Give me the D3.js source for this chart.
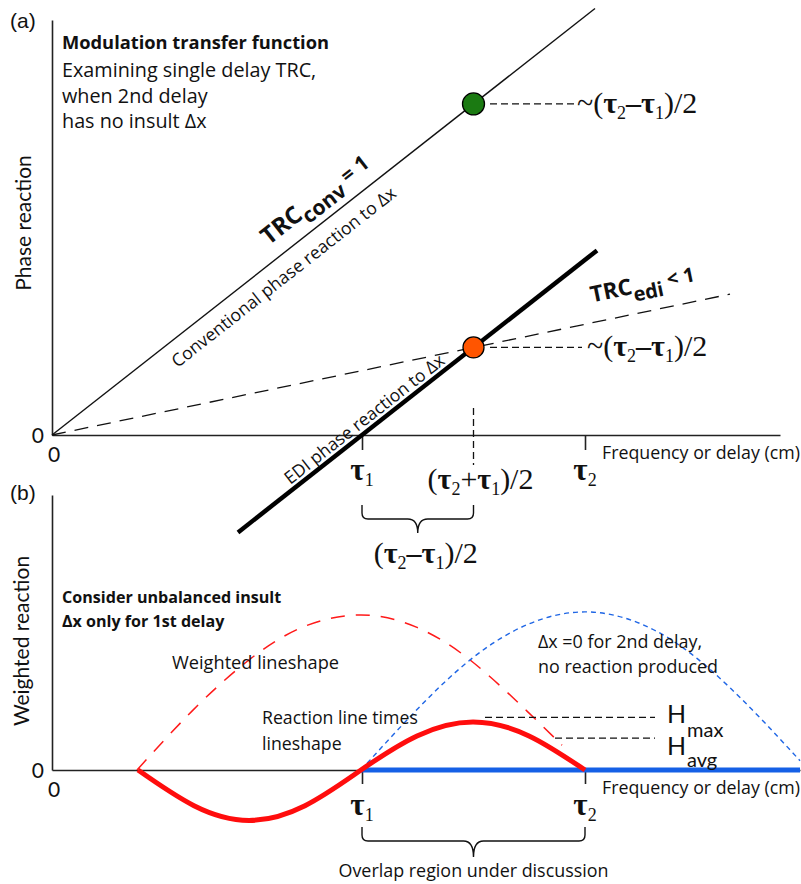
<!DOCTYPE html>
<html><head><meta charset="utf-8">
<script src="https://cdn.jsdelivr.net/npm/d3@7"></script>
<style>body{margin:0;background:#fff}svg{display:block}</style>
</head><body>
<svg id="c" width="801" height="884"></svg>
<script>
// ---------------- data ----------------
const tau = [3.1, 5.33];                 // τ1, τ2 (delay units)
const tauMid = 4.215;                    // (τ2+τ1)/2
// panel (a)
const convLine = [[0, 0], [5.43, 5.43]];          // TRC_conv = 1
const ediTrend = [[0, 0], [6.78, 1.793]];         // TRC_edi < 1 (dashed)
const ediLine  = [[1.86, -1.24], [5.45, 2.35]];   // EDI phase reaction
const convDot  = [4.215, 4.215];
const ediDot   = [4.215, 1.115];
// panel (b)
const shape1X = [0.85, 1.40, 1.95, 2.50, 3.09, 3.65, 4.20, 4.75, 5.10];
const shape1Y = [0, 0.38, 0.70, 0.92, 1.00, 0.92, 0.70, 0.38, 0.16];
const shape2X = [3.09, 3.65, 4.20, 4.76, 5.33, 5.90, 6.45, 7.00, 7.48];
const shape2Y = [0, 0.39, 0.72, 0.94, 1.02, 0.94, 0.72, 0.39, 0.06];
const prodX   = [0.86, 1.42, 1.97, 2.53, 3.09, 3.65, 4.21, 4.77, 5.33];
const prodY   = [0, -0.23, -0.325, -0.23, 0, 0.22, 0.31, 0.22, 0];
const zeroLine = [[3.09, 0], [7.48, 0]];
const hMax = 0.34, hAvg = 0.206;
const hMaxX = [4.33, 6.03], hAvgX = [5.03, 6.03];
// text
const introTitle = "Modulation transfer function";
const introLines = ["Examining single delay TRC,", "when 2nd delay", "has no insult Δx"];
const noteB = ["Consider unbalanced insult", "Δx only for 1st delay"];
const note2 = ["Δx =0 for 2nd delay,", "no reaction produced"];
const note3 = ["Reaction line times", "lineshape"];
const xTitle = "Frequency or delay (cm)";

// ---------------- setup ----------------
const svg = d3.select("#c");
const SANS = "'Open Sans', 'Noto Sans', sans-serif";
const LATO = "Lato, 'Open Sans', sans-serif";
const SERIF = "'Liberation Serif', 'DejaVu Serif', serif";
const xS = d3.scaleLinear().domain([0, 7.48]).range([52, 800]);
const yA = d3.scaleLinear().domain([0, 5.5]).range([435, 3]);
const yB = d3.scaleLinear().domain([0, 1]).range([770, 615]);

function txt(x, y, s, o = {}) {
  return svg.append("text").attr("x", x).attr("y", y).text(s)
    .attr("font-family", o.f || SANS).attr("font-size", o.size || 17)
    .attr("font-weight", o.w || "normal").attr("fill", "#111")
    .attr("text-anchor", o.a || "start");
}
// rich text: parts [{t, sub, size, w}]
function rich(g, parts, base) {
  const t = g.append("text").attr("font-family", base.f).attr("font-size", base.size)
    .attr("font-weight", base.w || "normal").attr("fill", "#111")
    .attr("text-anchor", base.a || "start");
  let shift = 0;
  parts.forEach(p => {
    const s = p.sub || 0;
    const ts = t.append("tspan").text(p.t).attr("dy", s - shift);
    if (p.size) ts.attr("font-size", p.size);
    if (p.w) ts.attr("font-weight", p.w);
    shift = s;
  });
  return t;
}
const line = d3.line().x(d => xS(d[0]));
const zip = (a, b) => a.map((v, i) => [v, b[i]]);

// ================= panel (a) =================
txt(10, 28, "(a)", {f: "'Liberation Sans', Arial, sans-serif", size: 21});
// axes
const xAxA = xS.copy().domain([0, xS.invert(780)]).range([52, 780]);
const gxA = svg.append("g").attr("transform", `translate(0,${yA(0)})`)
  .call(d3.axisBottom(xAxA).tickValues(tau).tickSize(15).tickSizeOuter(0).tickFormat(""));
const yAxA = yA.copy().domain([0, yA.invert(20)]).range([435, 20]);
const gyA = svg.append("g").attr("transform", `translate(${xS(0)},0)`)
  .call(d3.axisLeft(yAxA).tickValues([0]).tickSize(0).tickPadding(8).tickSizeOuter(0).tickFormat(d3.format("d")));
[gxA, gyA].forEach(g => { g.selectAll("path,line").attr("stroke", "#222").attr("stroke-width", 1.6); });
gyA.selectAll("text").attr("font-family", LATO).attr("font-size", 21).attr("fill", "#111").attr("dy", "0.36em");
txt(xS(0) + 2, 462, "0", {f: LATO, size: 21, a: "middle"});
txt(602, 459, xTitle, {size: 17.8});

svg.append("text").attr("transform", `translate(31,223) rotate(-90)`).attr("text-anchor", "middle")
  .attr("font-family", LATO).attr("font-size", 21).attr("fill", "#111").text("Phase reaction");

// lines
const lA = line.y(d => yA(d[1]));
svg.append("path").attr("d", lA(convLine)).attr("stroke", "#111").attr("stroke-width", 1.4).attr("fill", "none");
svg.append("path").attr("d", lA(ediTrend)).attr("stroke", "#111").attr("stroke-width", 1.3)
  .attr("stroke-dasharray", "14,9").attr("fill", "none");
svg.append("path").attr("d", lA(ediLine)).attr("stroke", "#000").attr("stroke-width", 4.5).attr("fill", "none");

// vertical dashed at midpoint
svg.append("line").attr("x1", xS(tauMid)).attr("x2", xS(tauMid)).attr("y1", 408).attr("y2", 465)
  .attr("stroke", "#111").attr("stroke-width", 1.3).attr("stroke-dasharray", "7,4");
// horizontal dashed leaders
svg.append("line").attr("x1", 490).attr("x2", 575).attr("y1", yA(convDot[1])).attr("y2", yA(convDot[1]))
  .attr("stroke", "#111").attr("stroke-width", 1.3).attr("stroke-dasharray", "7,4");
svg.append("line").attr("x1", 490).attr("x2", 582).attr("y1", yA(ediDot[1])).attr("y2", yA(ediDot[1]))
  .attr("stroke", "#111").attr("stroke-width", 1.3).attr("stroke-dasharray", "7,4");

// dots
svg.append("circle").attr("cx", xS(convDot[0])).attr("cy", yA(convDot[1])).attr("r", 11)
  .attr("fill", "#1b7a12").attr("stroke", "#000").attr("stroke-width", 1.3);
svg.append("circle").attr("cx", xS(ediDot[0])).attr("cy", yA(ediDot[1])).attr("r", 10.5)
  .attr("fill", "#ff5500").attr("stroke", "#000").attr("stroke-width", 1.3);

// math labels
const T = {t: "τ", w: "bold"};
const halfDiff = (lead) => [{t: lead + "("}, T, {t: "2", sub: 6, size: 18, w: "normal"}, {t: "–", w: "bold"},
  T, {t: "1", sub: 6, size: 18, w: "normal"}, {t: ")/2", w: "normal"}];
rich(svg.append("g").attr("transform", `translate(577,${yA(convDot[1]) + 9})`), halfDiff("~"), {f: SERIF, size: 30});
rich(svg.append("g").attr("transform", `translate(587,${yA(ediDot[1]) + 9})`), halfDiff("~"), {f: SERIF, size: 30});
const tauLbl = (n) => [T, {t: String(n), sub: 6, size: 18, w: "normal"}];
rich(svg.append("g").attr("transform", `translate(${xS(tau[0])},480)`), tauLbl(1), {f: SERIF, size: 31, a: "middle"});
rich(svg.append("g").attr("transform", `translate(${xS(tau[1])},480)`), tauLbl(2), {f: SERIF, size: 31, a: "middle"});
rich(svg.append("g").attr("transform", `translate(${xS(tauMid) + 7},489)`),
  [{t: "("}, T, {t: "2", sub: 6, size: 18, w: "normal"}, {t: "+", w: "normal"}, T,
   {t: "1", sub: 6, size: 18, w: "normal"}, {t: ")/2", w: "normal"}],
  {f: SERIF, size: 30, a: "middle"});
rich(svg.append("g").attr("transform", `translate(${(xS(tau[0]) + xS(tauMid)) / 2 + 8},563)`), halfDiff(""),
  {f: SERIF, size: 30, a: "middle"});

// brace helper
function brace(x1, x2, yTop, yH, yTip) {
  const xm = (x1 + x2) / 2, r = 6;
  const d = `M${x1},${yTop} V${yH - r} Q${x1},${yH} ${x1 + r},${yH} H${xm - 10} Q${xm},${yH} ${xm},${yTip}` +
    ` Q${xm},${yH} ${xm + 10},${yH} H${x2 - r} Q${x2},${yH} ${x2},${yH - r} V${yTop}`;
  svg.append("path").attr("d", d).attr("fill", "none").attr("stroke", "#111").attr("stroke-width", 1.4);
}
brace(xS(tau[0]), xS(tauMid), 505, 519, 533);

// rotated labels
const angConv = Math.atan2(yA(1) - yA(0), xS(1) - xS(0)) * 180 / Math.PI;
const angEdi = Math.atan2(yA(ediTrend[1][1]) - yA(0), xS(ediTrend[1][0]) - xS(0)) * 180 / Math.PI;
function along(xd, yd, ang) {
  return svg.append("g").attr("transform", `translate(${xS(xd)},${yA(yd)}) rotate(${ang})`);
}
along(2.2, 2.2, angConv).append("text").attr("text-anchor", "middle").attr("dy", 25)
  .attr("font-family", SANS).attr("font-size", 17.6).attr("fill", "#111").text("Conventional phase reaction to Δx");
rich(along(2.26, 2.26, angConv).append("g").attr("transform", "translate(0,-15)"),
  [{t: "TRC"}, {t: "conv", sub: 8, size: 21}, {t: " = 1", size: 21}], {f: SANS, size: 24, w: "bold"});
const ediSlope = (ediLine[1][1] - ediLine[0][1]) / (ediLine[1][0] - ediLine[0][0]);
const eX = 3.97;
along(eX, ediLine[0][1] + ediSlope * (eX - ediLine[0][0]), angConv).append("text").attr("text-anchor", "end").attr("dy", -5)
  .attr("font-family", SANS).attr("font-size", 17.5).attr("fill", "#111").text("EDI phase reaction to Δx");
const tX = 5.44;
rich(along(tX, ediTrend[1][1] / ediTrend[1][0] * tX, angEdi).append("g").attr("transform", "translate(0,-20)"),
  [{t: "TRC"}, {t: "edi", sub: 8, size: 20}, {t: " < 1", size: 20}], {f: SANS, size: 22.5, w: "bold"});

// intro text
txt(62, 49, introTitle, {size: 18.3, w: "bold"});
introLines.forEach((s, i) => txt(62, 77 + i * 25.5, s, {size: 19.8}));

// ================= panel (b) =================
txt(10, 500, "(b)", {f: "'Liberation Sans', Arial, sans-serif", size: 21});
const gxB = svg.append("g").attr("transform", `translate(0,${yB(0)})`)
  .call(d3.axisBottom(xS).tickValues(tau).tickSize(14).tickSizeOuter(0).tickFormat(""));
const yAxB = yB.copy().domain([0, yB.invert(495)]).range([770, 495]);
const gyB = svg.append("g").attr("transform", `translate(${xS(0)},0)`)
  .call(d3.axisLeft(yAxB).tickValues([0]).tickSize(0).tickPadding(8).tickSizeOuter(0).tickFormat(d3.format("d")));
[gxB, gyB].forEach(g => { g.selectAll("path,line").attr("stroke", "#222").attr("stroke-width", 1.6); });
gyB.selectAll("text").attr("font-family", LATO).attr("font-size", 21).attr("fill", "#111").attr("dy", "0.36em");
txt(xS(0) + 2, 797, "0", {f: LATO, size: 21, a: "middle"});
txt(602, 794, xTitle, {size: 17.8});
svg.append("text").attr("transform", `translate(29,641) rotate(-90)`).attr("text-anchor", "middle")
  .attr("font-family", LATO).attr("font-size", 21).attr("fill", "#111").text("Weighted reaction");

const lB = d3.line().x(d => xS(d[0])).y(d => yB(d[1])).curve(d3.curveNatural);
svg.append("path").attr("d", lB(zip(shape1X, shape1Y))).attr("fill", "none").attr("stroke", "#ff1a1a")
  .attr("stroke-width", 1.5).attr("stroke-dasharray", "14,11");
svg.append("path").attr("d", lB(zip(shape2X, shape2Y))).attr("fill", "none").attr("stroke", "#1f66e5")
  .attr("stroke-width", 1.4).attr("stroke-dasharray", "5,4");
svg.append("path").attr("d", lB(zeroLine)).attr("fill", "none").attr("stroke", "#1560e6").attr("stroke-width", 5);
svg.append("path").attr("d", lB(zip(prodX, prodY))).attr("fill", "none").attr("stroke", "#ff0d0d")
  .attr("stroke-width", 5).attr("stroke-linecap", "butt");

// H leaders
[[hMax, hMaxX, "max", 723, 737], [hAvg, hAvgX, "avg", 755, 767]].forEach(([h, xs, sub, yH, ySub]) => {
  svg.append("line").attr("x1", xS(xs[0])).attr("x2", xS(xs[1])).attr("y1", yB(h)).attr("y2", yB(h))
    .attr("stroke", "#111").attr("stroke-width", 1.3).attr("stroke-dasharray", "7,4");
  txt(667, yH, "H", {f: LATO, size: 25});
  txt(687, ySub, sub, {f: LATO, size: 20});
});

// notes
noteB.forEach((s, i) => txt(62, 603 + i * 24, s, {size: 16.1, w: "bold"}));
txt(172, 669, "Weighted lineshape", {size: 18.2});
note2.forEach((s, i) => txt(538, 648 + i * 25, s, {size: 17.9}));
note3.forEach((s, i) => txt(262, 724 + i * 26, s, {size: 17.7}));

// tau labels
rich(svg.append("g").attr("transform", `translate(${xS(tau[0])},815)`), tauLbl(1), {f: SERIF, size: 31, a: "middle"});
rich(svg.append("g").attr("transform", `translate(${xS(tau[1])},815)`), tauLbl(2), {f: SERIF, size: 31, a: "middle"});
brace(xS(tau[0]), xS(tau[1]), 827, 841, 857);
txt((xS(tau[0]) + xS(tau[1])) / 2, 877, "Overlap region under discussion", {size: 17.9, a: "middle"});
</script>
</body></html>
